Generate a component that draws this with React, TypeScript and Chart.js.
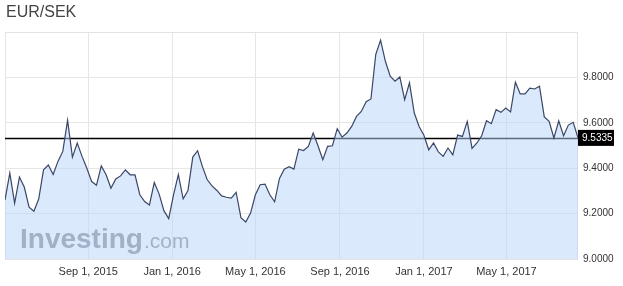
import React, { useEffect, useRef } from "react";
import { Chart, registerables } from "chart.js";

Chart.register(...registerables);

const TITLE = "EUR/SEK";
const START_DATE = "2015-05-03"; // first weekly observation
const WEEKLY_RATES = [
  9.26, 9.378, 9.246, 9.361, 9.317, 9.228, 9.21, 9.264, 9.393, 9.414,
  9.372, 9.43, 9.474, 9.611, 9.449, 9.511, 9.452, 9.4, 9.341, 9.325,
  9.41, 9.371, 9.312, 9.353, 9.366, 9.393, 9.371, 9.371, 9.283, 9.253,
  9.238, 9.337, 9.287, 9.213, 9.178, 9.283, 9.372, 9.265, 9.302, 9.449,
  9.477, 9.407, 9.349, 9.322, 9.302, 9.278, 9.272, 9.268, 9.294, 9.182,
  9.163, 9.202, 9.283, 9.327, 9.33, 9.283, 9.252, 9.355, 9.396, 9.407,
  9.396, 9.484, 9.478, 9.496, 9.555, 9.499, 9.437, 9.496, 9.499, 9.574,
  9.537, 9.555, 9.584, 9.628, 9.65, 9.693, 9.705, 9.901, 9.964, 9.871,
  9.805, 9.783, 9.802, 9.702, 9.776, 9.643, 9.584, 9.545, 9.481, 9.511,
  9.472, 9.452, 9.489, 9.459, 9.546, 9.54, 9.606, 9.487, 9.511, 9.543,
  9.609, 9.596, 9.658, 9.646, 9.665, 9.648, 9.779, 9.727, 9.727, 9.753,
  9.749, 9.761, 9.626, 9.606, 9.533, 9.609, 9.543, 9.59, 9.602, 9.5335,
];
const CURRENT_RATE = 9.5335;
const X_TICK_DATES = ["2015-09-01", "2016-01-01", "2016-05-01", "2016-09-01", "2017-01-01", "2017-05-01"];
const X_TICK_LABELS = ["Sep 1, 2015", "Jan 1, 2016", "May 1, 2016", "Sep 1, 2016", "Jan 1, 2017", "May 1, 2017"];
const Y_TICKS = [9.0, 9.2, 9.4, 9.6, 9.8];
const Y_MIN = 9.0;
const Y_MAX = 10.0;

const FONT = '"Liberation Sans", Arial, sans-serif';
const DAY_MS = 86400000;
const dayOf = (s: string) => Date.parse(s + "T00:00:00Z") / DAY_MS;

export default function App() {
  const ref = useRef<HTMLCanvasElement | null>(null);

  useEffect(() => {
    if (!ref.current) return;
    const start = dayOf(START_DATE);
    const points = WEEKLY_RATES.map((y, i) => ({ x: start + 7 * i, y }));

    const framePlugin = {
      id: "frame",
      beforeDatasetsDraw(chart: any) {
        const { ctx, chartArea: a, scales } = chart;
        ctx.save();
        // plot frame
        ctx.strokeStyle = "#e3e3e3";
        ctx.lineWidth = 1;
        ctx.strokeRect(a.left + 0.5, a.top + 0.5, a.right - a.left - 1, a.bottom - a.top);
        // watermark
        ctx.fillStyle = "#8c8f94";
        ctx.textBaseline = "alphabetic";
        ctx.font = `bold 28px ${FONT}`;
        ctx.fillText("Investing", 20, 248);
        const w = ctx.measureText("Investing").width;
        ctx.font = `21px ${FONT}`;
        ctx.fillText(".com", 20 + w + 1, 248);
        // current-value line
        const y = Math.round(scales.y.getPixelForValue(CURRENT_RATE)) + 0.5;
        ctx.strokeStyle = "#000";
        ctx.lineWidth = 1.5;
        ctx.beginPath();
        ctx.moveTo(a.left, y);
        ctx.lineTo(a.right, y);
        ctx.stroke();
        ctx.restore();
      },
      afterDraw(chart: any) {
        const { ctx, chartArea: a, scales } = chart;
        ctx.save();
        // title
        ctx.fillStyle = "#444";
        ctx.font = `16px ${FONT}`;
        ctx.textBaseline = "alphabetic";
        ctx.textAlign = "left";
        ctx.fillText(TITLE, 6, 17);
        // current value label
        const y = scales.y.getPixelForValue(CURRENT_RATE);
        ctx.fillStyle = "#000";
        ctx.fillRect(a.right, y - 8, 36, 16);
        ctx.fillStyle = "#fff";
        ctx.font = `10px ${FONT}`;
        ctx.textBaseline = "middle";
        ctx.fillText(CURRENT_RATE.toFixed(4), a.right + 4, y + 0.5);
        ctx.restore();
      },
    };

    const chart = new Chart(ref.current, {
      type: "line",
      data: {
        datasets: [
          {
            data: points,
            borderColor: "#3b4767",
            borderWidth: 1.2,
            backgroundColor: "rgba(183,211,249,0.5)",
            fill: "start",
            pointRadius: 0,
            tension: 0,
          },
        ],
      },
      options: {
        animation: false,
        responsive: false,
        devicePixelRatio: 1,
        layout: { padding: { top: 32, left: 5, right: 0, bottom: 0 } },
        plugins: {
          legend: { display: false },
          tooltip: { enabled: false },
          title: { display: false },
        },
        scales: {
          x: {
            type: "linear",
            min: points[0].x,
            max: points[points.length - 1].x,
            afterBuildTicks: (s: any) => {
              s.ticks = X_TICK_DATES.map((d) => ({ value: dayOf(d) }));
            },
            afterFit: (s: any) => {
              s.height = 27;
            },
            grid: { color: "#e6e6e6", drawTicks: false },
            border: { display: false },
            ticks: {
              autoSkip: false,
              maxRotation: 0,
              padding: 6,
              color: "#333",
              font: { family: FONT, size: 11 },
              callback: (_v: any, i: number) => X_TICK_LABELS[i],
            },
          },
          y: {
            position: "right",
            min: Y_MIN,
            max: Y_MAX,
            afterBuildTicks: (s: any) => {
              s.ticks = Y_TICKS.map((v) => ({ value: v }));
            },
            afterFit: (s: any) => {
              s.width = 45;
            },
            grid: { color: "#e6e6e6", drawTicks: false },
            border: { display: false },
            ticks: {
              padding: 5,
              color: "#333",
              font: { family: FONT, size: 10 },
              callback: (v: any) => Number(v).toFixed(4),
            },
          },
        },
      },
      plugins: [framePlugin],
    } as any);

    return () => chart.destroy();
  }, []);

  return (
    <div style={{ position: "absolute", left: 0, top: 0, width: 623, height: 286, background: "#fff" }}>
      <canvas ref={ref} width={623} height={286} style={{ display: "block" }} />
    </div>
  );
}
